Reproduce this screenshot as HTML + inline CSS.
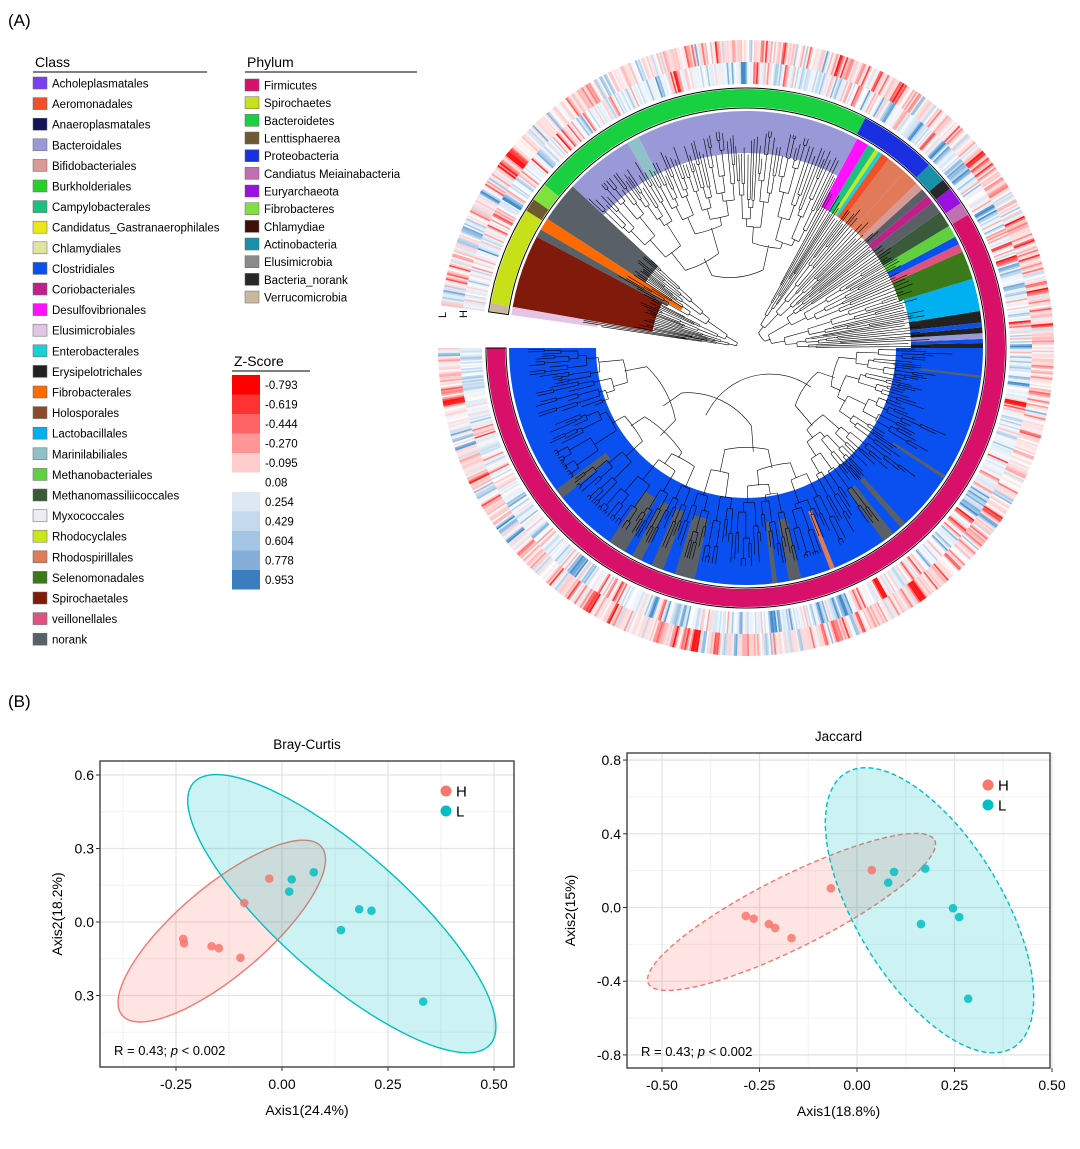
<!DOCTYPE html>
<html><head><meta charset="utf-8"><style>
body{margin:0;background:#fff;font-family:"Liberation Sans",Arial,sans-serif;}
svg text{font-family:"Liberation Sans",Arial,sans-serif;}
</style></head><body>
<svg id="fig" xmlns="http://www.w3.org/2000/svg" width="1080" height="1144" viewBox="0 0 1080 1144">
<rect width="1080" height="1144" fill="#fff"/>
<text x="8" y="26" font-size="17">(A)</text>
<text x="8" y="707" font-size="17">(B)</text>
<g id="tree"></g>
<g id="legends"></g>
<g id="bc"></g>
<g id="jc"></g>
</svg>
<script>
const NS="http://www.w3.org/2000/svg";
function E(tag,attrs,parent,txt){const e=document.createElementNS(NS,tag);for(const k in attrs)e.setAttribute(k,attrs[k]);if(txt!==undefined)e.textContent=txt;parent.appendChild(e);return e;}

// ---------- Legend data ----------
const classNames=["Acholeplasmatales","Aeromonadales","Anaeroplasmatales","Bacteroidales","Bifidobacteriales","Burkholderiales","Campylobacterales","Candidatus_Gastranaerophilales","Chlamydiales","Clostridiales","Coriobacteriales","Desulfovibrionales","Elusimicrobiales","Enterobacterales","Erysipelotrichales","Fibrobacterales","Holosporales","Lactobacillales","Marinilabiliales","Methanobacteriales","Methanomassiliicoccales","Myxococcales","Rhodocyclales","Rhodospirillales","Selenomonadales","Spirochaetales","veillonellales","norank"];
const classColors=["#7b3ff2","#f0502a","#14145a","#9999d8","#d89a96","#2ad02a","#1cc080","#e8e818","#e0e4a0","#0a50f0","#c0208a","#ff10ff","#e4c4e4","#18d0d8","#222222","#ff6a00","#8b4a2a","#00b0f0","#90c0c8","#60d040","#3a5a3a","#ececf2","#c8e818","#e07a58","#3a7a1a","#801a0a","#e05080","#5a6068"];
const phylumNames=["Firmicutes","Spirochaetes","Bacteroidetes","Lenttisphaerea","Proteobacteria","Candiatus Meiainabacteria","Euryarchaeota","Fibrobacteres","Chlamydiae","Actinobacteria","Elusimicrobia","Bacteria_norank","Verrucomicrobia"];
const phylumColors=["#d8106a","#c8e018","#18d040","#6e5a30","#1a30e0","#c070b0","#9a10e0","#80e040","#401008","#1890a8","#8a8a8a","#282828","#c8b8a0"];
const zLabels=["-0.793","-0.619","-0.444","-0.270","-0.095","0.08","0.254","0.429","0.604","0.778","0.953"];
const zColors=["#ff0000","#ff3232","#ff6464","#ff9696","#ffcccc","#ffffff","#dde8f4","#c4d9ee","#a4c5e5","#84aed8","#3a7ec0"];

const L=document.getElementById('legends');
E('text',{x:35,y:67,'font-size':14,},L,'Class');
E('line',{x1:33,y1:72,x2:207,y2:72,stroke:'#000','stroke-width':1},L);
classNames.forEach((n,i)=>{const y=77+i*20.6;
 const g=E('g',{},L);
 
 
 E('rect',{x:33,y:y,width:14,height:12,fill:classColors[i],stroke:'#666','stroke-width':0.5},g);
 E('text',{x:52,y:y+10.5,'font-size':11.5},g,n);});
E('text',{x:247,y:67,'font-size':14,},L,'Phylum');
E('line',{x1:245,y1:72,x2:417,y2:72,stroke:'#000','stroke-width':1},L);
phylumNames.forEach((n,i)=>{const y=79+i*17.67;
 const g=E('g',{},L);
 
 
 E('rect',{x:245,y:y,width:14,height:12,fill:phylumColors[i],stroke:'#666','stroke-width':0.5},g);
 E('text',{x:264,y:y+10.5,'font-size':11.5},g,n);});
E('text',{x:234,y:366,'font-size':14,},L,'Z-Score');
E('line',{x1:232,y1:371,x2:310,y2:371,stroke:'#000','stroke-width':1},L);
zLabels.forEach((n,i)=>{const y=375+i*19.5;
 const g=E('g',{},L);
 
 
 E('rect',{x:232,y:y,width:28,height:19.5,fill:zColors[i]},g);
 E('text',{x:265,y:y+14,'font-size':11.5},g,n);});

// ---------- Tree ----------
const cx=746,cy=348;
function pt(t,r){const a=t*Math.PI/180;return [cx+r*Math.cos(a),cy-r*Math.sin(a)];}
function sector(t1,t2,r1,r2){const lg=(t2-t1)>180?1:0;const a=pt(t1,r2),b=pt(t2,r2),c=pt(t2,r1),d=pt(t1,r1);
 return `M${a[0]},${a[1]}A${r2},${r2} 0 ${lg} 0 ${b[0]},${b[1]}L${c[0]},${c[1]}A${r1},${r1} 0 ${lg} 1 ${d[0]},${d[1]}Z`;}
const T=document.getElementById('tree');
// class wedges: [startAngle, endAngle, innerRadius, colorIndex]
const wedgeStart=[-180,0,1.2,2.2,3.6,5,6.2,9,17,24,26,28,31,35,38,40,42,44,48,53,55,56,57,59,62,117,120,137,147,150,152,170];
const wedgeEnd=[0,1.2,2.2,3.6,5,6.2,9,17,24,26,28,31,35,38,40,42,44,48,53,55,56,57,59,62,117,120,137,147,150,152,170,172];
const wedgeInner=[150,165,165,165,165,165,165,165,160,160,160,160,160,160,160,160,160,160,160,160,160,160,160,160,195,195,195,120,75,90,95,150];
const wedgeClass=[9,14,9,3,14,9,14,17,24,26,9,19,20,27,10,27,4,23,23,1,13,22,6,11,3,18,3,27,15,27,25,12];
wedgeStart.forEach((s,i)=>{
 const p=E('path',{d:sector(s,wedgeEnd[i],wedgeInner[i],237),fill:classColors[wedgeClass[i]]},T);
 
 
});
// gray norank stripes inside Clostridiales [angle, width]
const stripeAngles=[-142,-123,-117.5,-112,-105,-83,-78,-53,-48.5,-33,-7];
const stripeWidths=[2.5,4.5,2.5,3,5,1.2,3,3,1.5,0.8,0.6];
stripeAngles.forEach((a,i)=>{const w=stripeWidths[i];const p=E('path',{d:sector(a-w/2,a+w/2,175,237),fill:'#5a6068'},T);
 
 });
const os=E('path',{d:sector(-69.2,-68,175,237),fill:'#e07a58'},T);



// phylum ring segments
const phyStart=[-180,31,34,38,40.5,45,62.6,141,145,148,170];
const phyEnd=[31,34,38,40.5,45,62.6,141,145,148,170,172];
const phyIdx=[0,5,6,11,9,4,2,7,3,1,12];
phyStart.forEach((s,i)=>{const p=E('path',{d:sector(s,phyEnd[i],241,259),fill:phylumColors[phyIdx[i]]},T);
 
 });
E('path',{d:sector(-180,172,240,260),fill:'none',stroke:'#000','stroke-width':1},T);

// heatmap rings (deterministic texture)
let seed=12345;function rnd(){seed=(seed*1103515245+12345)%2147483648;return seed/2147483648;}
function zcol(v){
 if(v<0){const k=Math.min(1,-v);const g=Math.round(255-235*k);return `rgb(255,${g},${g})`;}
 const k=Math.min(1,v);return `rgb(${Math.round(255-190*k)},${Math.round(255-115*k)},${Math.round(255-50*k)})`;}
const nCells=1100;
const hmG=E('g',{},T);


let prevH=0,prevL=0;
for(let i=0;i<nCells;i++){
 const t1=-180+i*(352/nCells),t2=t1+352/nCells+0.04;
 let vH=(rnd()*2-1);let vL=(rnd()*2-1);
 vH=0.55*prevH+0.6*vH; vL=0.55*prevL+0.6*vL; prevH=vH;prevL=vL;
 vH=vH*Math.abs(vH)*1.3; vL=vL*Math.abs(vL)*1.3;
 E('path',{d:sector(t1,t2,264,286),fill:zcol(vH+0.1)},hmG);
 E('path',{d:sector(t1,t2,286,308),fill:zcol(vL-0.15)},hmG);
}
E('text',{x:438,y:318,'font-size':11,transform:'rotate(-90 442 314)',},T,'L');
E('text',{x:459,y:318,'font-size':11,transform:'rotate(-90 463 314)',},T,'H');

// tree branches (procedural)
const treeG=E('g',{fill:'none',stroke:'#000','stroke-width':0.6},T);


let dstr='';
function leafR(t){for(let i=0;i<wedgeStart.length;i++){if(t>=wedgeStart[i]&&t<wedgeEnd[i])return Math.min(wedgeInner[i]+20,230);}return 200;}
function node(a0,a1,r,depth){
 const mid=(a0+a1)/2;
 if(a1-a0<1.3||depth>10){const lr=Math.max(r+3,leafR(mid)-rnd()*25);const p=pt(mid,r),q=pt(mid,lr);dstr+=`M${p[0].toFixed(1)},${p[1].toFixed(1)}L${q[0].toFixed(1)},${q[1].toFixed(1)}`;return;}
 const sp=a0+(a1-a0)*(0.3+rnd()*0.4);
 const m1=(a0+sp)/2,m2=(sp+a1)/2;
 const r1=Math.min(r+5+rnd()*22,215),r2=Math.min(r+5+rnd()*22,215);
 const p1=pt(m1,r),p2=pt(m2,r);
 dstr+=`M${p1[0].toFixed(1)},${p1[1].toFixed(1)}A${r},${r} 0 0 1 ${p2[0].toFixed(1)},${p2[1].toFixed(1)}`;
 const q1=pt(m1,r1),q2=pt(m2,r2);
 dstr+=`M${p1[0].toFixed(1)},${p1[1].toFixed(1)}L${q1[0].toFixed(1)},${q1[1].toFixed(1)}M${p2[0].toFixed(1)},${p2[1].toFixed(1)}L${q2[0].toFixed(1)},${q2[1].toFixed(1)}`;
 node(a0,sp,r1,depth+1);node(sp,a1,r2,depth+1);
}
node(-180,0,70,0);node(0,62,20,2);node(62,137,80,1);node(137,172,10,3);
E('path',{d:dstr},treeG);

// ---------- PCoA ----------
function pcoa(gid,cfg){
 const G=document.getElementById(gid);
 const X=v=>cfg.x0+v*cfg.xs, Y=v=>cfg.y0-v*cfg.ys;
 const b=cfg.box;
 E('rect',{x:b[0],y:b[1],width:b[2]-b[0],height:b[3]-b[1],fill:'#fff'},G);
 cfg.xminor.forEach(v=>E('line',{x1:X(v),x2:X(v),y1:b[1],y2:b[3],stroke:'#f2f2f2','stroke-width':1},G));
 cfg.yminor.forEach(v=>E('line',{y1:Y(v),y2:Y(v),x1:b[0],x2:b[2],stroke:'#f2f2f2','stroke-width':1},G));
 cfg.xticks.forEach(v=>E('line',{x1:X(v),x2:X(v),y1:b[1],y2:b[3],stroke:'#e4e4e4','stroke-width':1.3},G));
 cfg.yticks.forEach(v=>E('line',{y1:Y(v),y2:Y(v),x1:b[0],x2:b[2],stroke:'#e4e4e4','stroke-width':1.3},G));
 function ell(e,col){let d='';for(let k=0;k<=120;k++){const t=k/120*2*Math.PI;const x=X(e[0]+e[2]*Math.cos(t)+e[4]*Math.sin(t)),y=Y(e[1]+e[3]*Math.cos(t)+e[5]*Math.sin(t));d+=(k?'L':'M')+x.toFixed(1)+','+y.toFixed(1);}
  const p=E('path',{d:d+'Z',fill:col,'fill-opacity':0.2,stroke:col,'stroke-width':1.4,'stroke-dasharray':cfg.dash},G);return p;}
 const eh=ell(cfg.ellH,'#f8766d');
 
 
 const el=ell(cfg.ellL,'#00bfc4');
 
 
 cfg.hx.forEach((v,i)=>{const c=E('circle',{cx:X(v),cy:Y(cfg.hy[i]),r:4.3,fill:'#f8766d','fill-opacity':0.85},G);
  
  });
 cfg.lx.forEach((v,i)=>{const c=E('circle',{cx:X(v),cy:Y(cfg.ly[i]),r:4.3,fill:'#00bfc4','fill-opacity':0.85},G);
  
  });
 E('rect',{x:b[0],y:b[1],width:b[2]-b[0],height:b[3]-b[1],fill:'none',stroke:'#333','stroke-width':1.3},G);
 cfg.xticks.forEach((v,i)=>{E('line',{x1:X(v),x2:X(v),y1:b[3],y2:b[3]+4,stroke:'#333'},G);
  const t=E('text',{x:X(v),y:b[3]+22,'font-size':14,'text-anchor':'middle'},G,cfg.xlab[i]);
  
  });
 cfg.yticks.forEach((v,i)=>{E('line',{x1:b[0]-4,x2:b[0],y1:Y(v),y2:Y(v),stroke:'#333'},G);
  const t=E('text',{x:b[0]-6,y:Y(v)+5,'font-size':14,'text-anchor':'end'},G,cfg.ylab[i]);
  
  });
 const tt=E('text',{x:(b[0]+b[2])/2,y:b[1]-12,'font-size':13.5,'text-anchor':'middle'},G,cfg.title);
 
 
 const xt=E('text',{x:(b[0]+b[2])/2,y:b[3]+48,'font-size':14,'text-anchor':'middle'},G,cfg.xtitle);
 
 
 const yx=cfg.ytx,yy=(b[1]+b[3])/2;
 const yt=E('text',{x:yx,y:yy,'font-size':14,'text-anchor':'middle',transform:`rotate(-90 ${yx} ${yy})`},G,cfg.ytitle);
 
 
 const rt=E('text',{x:b[0]+14,y:b[3]-12,'font-size':13},G);
 
 
 E('tspan',{},rt,'R = 0.43; ');E('tspan',{'font-style':'italic'},rt,'p');E('tspan',{},rt,' < 0.002');
 const lg=cfg.leg;
 [['H','#f8766d'],['L','#00bfc4']].forEach((q,i)=>{const g=E('g',{},G);
  
  
  E('circle',{cx:lg[0],cy:lg[1]+i*20,r:5.5,fill:q[1]},g);
  E('text',{x:lg[0]+10,y:lg[1]+i*20+5.5,'font-size':15},g,q[0]);});
}
// Bray-Curtis data
const bcHx=[-0.03,-0.089,-0.233,-0.231,-0.166,-0.149,-0.098];
const bcHy=[0.177,0.078,-0.069,-0.087,-0.099,-0.107,-0.146];
const bcLx=[0.023,0.017,0.075,0.182,0.211,0.139,0.333];
const bcLy=[0.174,0.124,0.203,0.052,0.046,-0.033,-0.325];
const bcEllH=[-0.142,-0.037,0.235,0.344,0.068,-0.139];
const bcEllL=[0.141,0.034,0.350,-0.534,-0.098,-0.193];
const bcXticks=[-0.25,0,0.25,0.5];
const bcXlab=["-0.25","0.00","0.25","0.50"];
const bcYticks=[0.6,0.3,0,-0.3];
const bcYlab=["0.6","0.3","0.0","0.3"];
// Jaccard data
const jcHx=[0.038,-0.067,-0.285,-0.265,-0.226,-0.210,-0.168];
const jcHy=[0.203,0.104,-0.046,-0.061,-0.090,-0.111,-0.166];
const jcLx=[0.095,0.080,0.175,0.246,0.262,0.164,0.285];
const jcLy=[0.193,0.135,0.211,-0.004,-0.052,-0.090,-0.495];
const jcEllH=[-0.168,-0.024,0.367,0.389,0.041,-0.174];
const jcEllL=[0.186,-0.015,0.214,-0.746,0.160,0.205];
const jcXticks=[-0.5,-0.25,0,0.25,0.5];
const jcXlab=["-0.50","-0.25","0.00","0.25","0.50"];
const jcYticks=[0.8,0.4,0,-0.4,-0.8];
const jcYlab=["0.8","0.4","0.0","-0.4","-0.8"];

pcoa('bc',{x0:282,xs:424,y0:922,ys:245,box:[100,761,514,1067],xticks:bcXticks,xlab:bcXlab,yticks:bcYticks,ylab:bcYlab,
 xminor:[-0.375,-0.125,0.125,0.375],yminor:[0.45,0.15,-0.15,-0.45],hx:bcHx,hy:bcHy,lx:bcLx,ly:bcLy,ellH:bcEllH,ellL:bcEllL,dash:'none',
 title:'Bray-Curtis',xtitle:'Axis1(24.4%)',ytitle:'Axis2(18.2%)',ytx:62,leg:[446,791]});
pcoa('jc',{x0:857,xs:390,y0:907.5,ys:184.3,box:[627,753,1050,1068],xticks:jcXticks,xlab:jcXlab,yticks:jcYticks,ylab:jcYlab,
 xminor:[-0.375,-0.125,0.125,0.375],yminor:[0.6,0.2,-0.2,-0.6],hx:jcHx,hy:jcHy,lx:jcLx,ly:jcLy,ellH:jcEllH,ellL:jcEllL,dash:'5,3',
 title:'Jaccard',xtitle:'Axis1(18.8%)',ytitle:'Axis2(15%)',ytx:575,leg:[988,785]});
</script>
</body></html>
